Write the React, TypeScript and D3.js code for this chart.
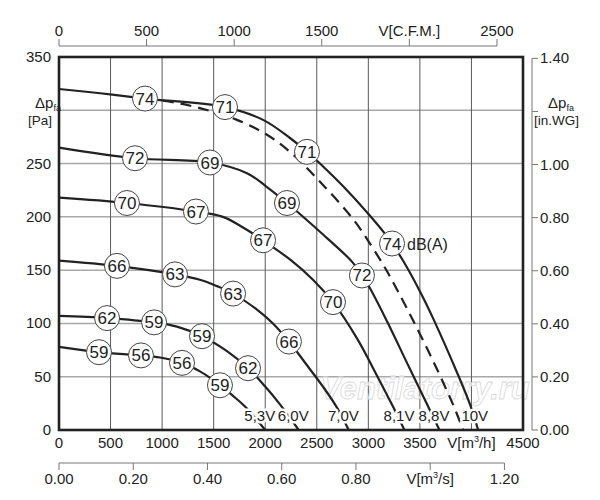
import React from "react";
import * as d3 from "d3";

// fan curves: [flow m3/h, pressure Pa]
const curve53V: [number, number][] = [[0, 78], [388, 73], [795, 70], [979, 68], [1193, 63], [1367, 55], [1464, 49], [1561, 42], [1688, 32], [1804, 22], [2000, 0]];
const curve60V: [number, number][] = [[0, 107], [466, 105], [922, 101], [1144, 97], [1387, 88], [1629, 74], [1833, 58], [1998, 41], [2143, 24], [2325, 0]];
const curve70V: [number, number][] = [[0, 159], [562, 154], [1125, 146], [1367, 141], [1532, 135], [1688, 128], [1920, 113], [2075, 100], [2230, 83], [2434, 57], [2565, 40], [2696, 21], [2810, 0]];
const curve81V: [number, number][] = [[0, 218], [659, 213], [1328, 205], [1590, 200], [1785, 190], [1979, 178], [2240, 160], [2463, 141], [2657, 120], [2890, 86], [3084, 51], [3239, 22], [3350, 0]];
const curve88V: [number, number][] = [[0, 265], [737, 255], [1464, 251], [1823, 241], [2017, 228], [2211, 213], [2531, 186], [2841, 158], [2938, 145], [3016, 133], [3181, 102], [3375, 63], [3580, 22], [3690, 0]];
const curve10V: [number, number][] = [[0, 320], [400, 316], [834, 311], [1610, 303], [1979, 291], [2240, 274], [2405, 261], [2531, 250], [2822, 222], [3016, 201], [3162, 184], [3230, 175], [3336, 159], [3501, 130], [3627, 105], [3860, 54], [3986, 24], [4065, 0]];
const curveDashed: [number, number][] = [[834, 311], [1076, 308], [1367, 302], [1726, 291], [2017, 277], [2240, 261], [2531, 233], [2851, 198], [3035, 172], [3181, 149], [3288, 130], [3433, 103], [3627, 65], [3821, 24], [3920, 0]];

const voltages = ["5,3V", "6,0V", "7,0V", "8,1V", "8,8V", "10V"];
const solidCurves = [curve53V, curve60V, curve70V, curve81V, curve88V, curve10V];

// sound level markers per curve: [flow, dB]
const noise53V = [[388, 59], [795, 56], [1193, 56], [1561, 59]];
const noise60V = [[466, 62], [922, 59], [1387, 59], [1833, 62]];
const noise70V = [[562, 66], [1125, 63], [1688, 63], [2230, 66]];
const noise81V = [[659, 70], [1328, 67], [1979, 67], [2657, 70]];
const noise88V = [[737, 72], [1464, 69], [2211, 69], [2938, 72]];
const noise10V = [[834, 74], [1610, 71], [2405, 71], [3230, 74]];
const noiseSets = [noise53V, noise60V, noise70V, noise81V, noise88V, noise10V];

const flowTicks = [0, 500, 1000, 1500, 2000, 2500, 3000, 3500, 4000, 4500];
const paTicks = [0, 50, 100, 150, 200, 250, 300, 350];
const cfmTicks = [0, 500, 1000, 1500, 2000, 2500];
const m3sTicks = [0, 0.2, 0.4, 0.6, 0.8, 1.0, 1.2];
const inwgTicks = [0, 0.2, 0.4, 0.6, 0.8, 1.0, 1.2, 1.4];

const FONT = "'Liberation Sans', Arial, sans-serif";
const INK = "#222";

function interp(c: [number, number][], fx: number) {
  for (let i = 1; i < c.length; i++) {
    if (fx <= c[i][0]) {
      const [x0, y0] = c[i - 1];
      const [x1, y1] = c[i];
      return y0 + ((fx - x0) / (x1 - x0)) * (y1 - y0);
    }
  }
  return c[c.length - 1][1];
}

export default function App() {
  const x = d3.scaleLinear().domain([0, 4500]).range([59, 523]);
  const y = d3.scaleLinear().domain([0, 350]).range([430, 57]);
  const line = d3
    .line<[number, number]>()
    .x((d) => x(d[0]))
    .y((d) => y(d[1]))
    .curve(d3.curveCatmullRom.alpha(0.5));

  const cfm = (v: number) => x(v * 1.699);
  const m3s = (v: number) => x(v * 3600);
  const inwg = (v: number) => y(v * 249.09);

  const left = x(0), right = x(4500), top = y(350), bottom = y(0);

  return (
    <svg width={600} height={500} style={{ position: "absolute", left: 0, top: 0, background: "#fff" }} fontFamily={FONT}>
      {/* grid */}
      {paTicks.slice(1, -1).map((t) => (
        <line key={"h" + t} x1={left} x2={right} y1={y(t)} y2={y(t)} stroke="#a8a8a8" strokeWidth={1.5} />
      ))}
      {flowTicks.slice(1, -1).map((t) => (
        <line key={"v" + t} x1={x(t)} x2={x(t)} y1={top} y2={bottom} stroke="#5a5a5a" strokeWidth={1} />
      ))}

      {/* watermark */}
      <text x={425} y={399} textAnchor="middle" fontSize={31} fontStyle="italic" fontWeight="bold" fill="#fff" fillOpacity={0.7} stroke="#d8d8d8" strokeWidth={0.8}>
        Ventilatorry.ru
      </text>

      {/* curves */}
      <path d={line(curveDashed) || ""} fill="none" stroke={INK} strokeWidth={2.2} strokeDasharray="11,7" />
      {solidCurves.map((c, i) => (
        <path key={"c" + i} d={line(c) || ""} fill="none" stroke={INK} strokeWidth={2.2} />
      ))}

      {/* voltage labels */}
      {solidCurves.map((c, i) => (
        <text key={"vl" + i} x={x(c[c.length - 1][0]) + 10} y={bottom - 9} textAnchor="end" fontSize={15} fill={INK}
          stroke="#fff" strokeWidth={5} strokeLinejoin="round" style={{ paintOrder: "stroke" }}>
          {voltages[i]}
        </text>
      ))}

      {/* dB markers */}
      {noiseSets.map((set, i) =>
        set.map(([fx, db], j) => {
          const cx = x(fx), cy = y(interp(solidCurves[i], fx));
          return (
            <g key={"n" + i + "-" + j}>
              <circle cx={cx} cy={cy} r={12.5} fill="#fff" stroke="#444" strokeWidth={1} />
              <text x={cx} y={cy + 6} textAnchor="middle" fontSize={17} fill={INK}>{db}</text>
            </g>
          );
        })
      )}
      <text x={x(3230) + 15} y={y(interp(curve10V, 3230)) + 6} fontSize={16} fill={INK}>dB(A)</text>

      {/* frame */}
      <rect x={left} y={top} width={right - left} height={bottom - top} fill="none" stroke={INK} strokeWidth={2.6} />

      {/* left axis labels */}
      {paTicks.filter((t) => t !== 300).map((t) => (
        <text key={"pa" + t} x={51} y={y(t) + 5} textAnchor="end" fontSize={15} fill={INK}>{t}</text>
      ))}
      <text x={35} y={108} fontSize={15} fill={INK}>Δp<tspan fontSize={9} dy={3}>fa</tspan></text>
      <text x={28} y={125} fontSize={13.5} fill={INK}>[Pa]</text>

      {/* bottom flow labels */}
      {flowTicks.map((t) => (
        <text key={"f" + t} x={x(t)} y={bottom + 18} textAnchor="middle" fontSize={15} fill={INK}>
          {t === 4000 ? <>V[m<tspan fontSize={9} dy={-6}>3</tspan><tspan dy={6}>/h]</tspan></> : t}
        </text>
      ))}

      {/* top CFM axis */}
      <line x1={cfm(0)} x2={cfm(2500)} y1={46} y2={46} stroke="#777" strokeWidth={1} />
      {cfmTicks.map((t) => (
        <g key={"cfm" + t}>
          <line x1={cfm(t)} x2={cfm(t)} y1={39} y2={46} stroke="#777" strokeWidth={1} />
          <text x={cfm(t)} y={36} textAnchor="middle" fontSize={15} fill={INK}>{t === 2000 ? "V[C.F.M.]" : t}</text>
        </g>
      ))}

      {/* bottom m3/s axis */}
      <line x1={m3s(0)} x2={m3s(1.2)} y1={463} y2={463} stroke="#777" strokeWidth={1} />
      {m3sTicks.map((t) => (
        <g key={"ms" + t}>
          <line x1={m3s(t)} x2={m3s(t)} y1={463} y2={470} stroke="#777" strokeWidth={1} />
          <text x={m3s(t)} y={484} textAnchor="middle" fontSize={15} fill={INK}>
            {Math.abs(t - 1) < 1e-9 ? <>V[m<tspan fontSize={9} dy={-6}>3</tspan><tspan dy={6}>/s]</tspan></> : t.toFixed(2)}
          </text>
        </g>
      ))}

      {/* right in.WG axis */}
      <line x1={532} x2={532} y1={inwg(1.4)} y2={inwg(0)} stroke="#777" strokeWidth={1} />
      {inwgTicks.map((t) => (
        <g key={"iw" + t}>
          <line x1={532} x2={538} y1={inwg(t)} y2={inwg(t)} stroke="#777" strokeWidth={1} />
          {Math.abs(t - 1.2) > 1e-9 && (
            <text x={540} y={inwg(t) + 5} fontSize={15} fill={INK}>{t.toFixed(2)}</text>
          )}
        </g>
      ))}
      <text x={548} y={108} fontSize={15} fill={INK}>Δp<tspan fontSize={9} dy={3}>fa</tspan></text>
      <text x={534} y={125} fontSize={13.5} fill={INK}>[in.WG]</text>
    </svg>
  );
}
